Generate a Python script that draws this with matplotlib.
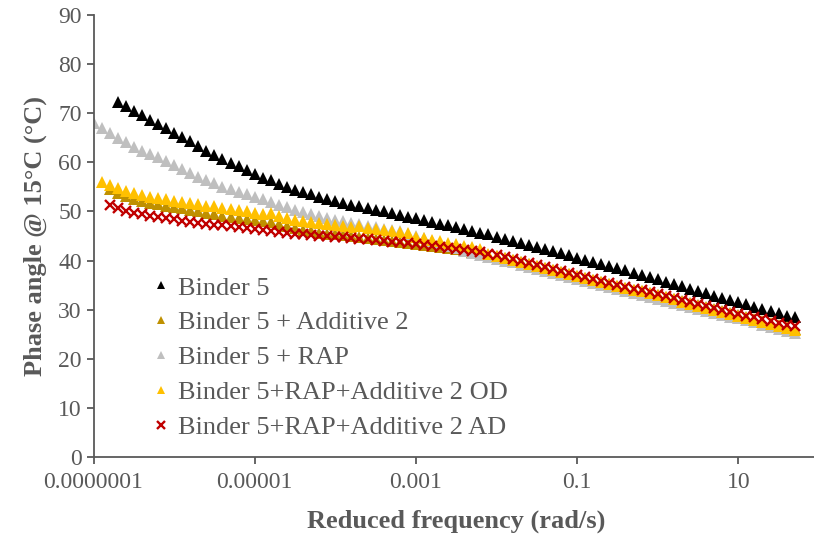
import numpy as np
import matplotlib
matplotlib.use('Agg')
import matplotlib.pyplot as plt

plt.rcParams['font.family'] = ['Liberation Serif', 'DejaVu Serif']

# log10 of reduced frequency (rad/s), shared grid; each series uses the tail of it
log_freq = [-7.0, -6.9, -6.8, -6.7, -6.6, -6.5, -6.4, -6.3, -6.2, -6.1,
            -6.0, -5.9, -5.8, -5.7, -5.6, -5.5, -5.4, -5.3, -5.2, -5.1,
            -5.0, -4.9, -4.8, -4.7, -4.6, -4.5, -4.4, -4.3, -4.2, -4.1,
            -4.0, -3.9, -3.8, -3.7, -3.6, -3.5, -3.4, -3.3, -3.2, -3.1,
            -3.0, -2.9, -2.8, -2.7, -2.6, -2.5, -2.4, -2.3, -2.2, -2.1,
            -2.0, -1.9, -1.8, -1.7, -1.6, -1.5, -1.4, -1.3, -1.2, -1.1,
            -1.0, -0.9, -0.8, -0.7, -0.6, -0.5, -0.4, -0.3, -0.2, -0.1,
            0.0, 0.1, 0.2, 0.3, 0.4, 0.5, 0.6, 0.7, 0.8, 0.9,
            1.0, 1.1, 1.2, 1.3, 1.4, 1.5, 1.6, 1.7]

binder5 = [72.3, 71.4, 70.5, 69.6, 68.7, 67.8, 66.9, 66.0, 65.1, 64.3,
           63.3, 62.4, 61.5, 60.7, 59.9, 59.2, 58.4, 57.6, 56.9, 56.3,
           55.6, 55.0, 54.4, 54.0, 53.5, 53.0, 52.6, 52.2, 51.8, 51.4,
           51.0, 50.7, 50.3, 50.0, 49.6, 49.3, 48.9, 48.6, 48.2, 47.9,
           47.5, 47.2, 46.8, 46.4, 46.0, 45.7, 45.3, 44.8, 44.4, 44.0,
           43.6, 43.2, 42.8, 42.4, 42.0, 41.5, 41.1, 40.6, 40.2, 39.8,
           39.3, 38.9, 38.4, 38.0, 37.5, 37.1, 36.6, 36.2, 35.7, 35.2,
           34.8, 34.3, 33.8, 33.3, 32.8, 32.4, 31.9, 31.5, 31.1, 30.6,
           30.2, 29.7, 29.3, 28.8, 28.4]

binder5_add2 = [54.6, 53.8, 53.2, 52.6, 52.2, 51.8, 51.5, 51.2, 50.9, 50.6,
                50.3, 50.0, 49.7, 49.4, 49.1, 48.9, 48.7, 48.5, 48.3, 48.1,
                47.9, 47.4, 47.0, 46.6, 46.3, 46.0, 45.7, 45.5, 45.3, 45.1,
                44.9, 44.7, 44.5, 44.3, 44.1, 43.9, 43.7, 43.5, 43.3, 43.1,
                42.9, 42.7, 42.5, 42.3, 42.1, 41.8, 41.5, 41.2, 40.9, 40.5,
                40.1, 39.7, 39.3, 38.9, 38.5, 38.1, 37.7, 37.3, 36.9, 36.5,
                36.1, 35.7, 35.3, 34.9, 34.5, 34.1, 33.7, 33.3, 32.9, 32.5,
                32.1, 31.7, 31.3, 30.9, 30.5, 30.1, 29.7, 29.3, 28.9, 28.5,
                28.1, 27.7, 27.3, 26.9, 26.5, 26.1]

binder5_rap = [68.0, 67.0, 66.0, 65.0, 64.1, 63.2, 62.4, 61.7, 61.0, 60.2,
               59.4, 58.6, 57.8, 57.1, 56.4, 55.7, 55.0, 54.5, 54.0, 53.5,
               53.0, 52.5, 51.9, 51.3, 50.8, 50.3, 49.8, 49.4, 49.0, 48.6,
               48.3, 48.0, 47.7, 47.4, 47.1, 46.8, 46.5, 46.3, 46.0, 45.5,
               45.0, 44.5, 44.0, 43.5, 43.0, 42.5, 42.0, 41.6, 41.2, 40.8,
               40.4, 40.0, 39.6, 39.0, 38.6, 38.2, 37.8, 37.4, 37.0, 36.6,
               36.2, 35.8, 35.4, 35.0, 34.6, 34.2, 33.8, 33.4, 33.0, 32.6,
               32.2, 31.8, 31.4, 31.0, 30.6, 30.2, 29.8, 29.4, 29.0, 28.6,
               28.2, 27.8, 27.4, 26.9, 26.5, 26.1, 25.7, 25.3]

binder5_rap_add2_od = [56.0, 55.3, 54.8, 54.1, 53.7, 53.3, 53.0, 52.7, 52.5, 52.2,
                       52.0, 51.7, 51.5, 51.2, 51.0, 50.7, 50.5, 50.2, 50.0, 49.7,
                       49.4, 49.6, 49.0, 48.6, 48.3, 48.1, 47.9, 47.7, 47.5, 47.3,
                       47.1, 46.9, 47.0, 46.7, 46.5, 46.3, 46.1, 45.9, 45.7, 44.8,
                       44.5, 44.2, 43.9, 43.6, 43.3, 43.0, 42.7, 42.4, 41.3, 40.9,
                       40.5, 40.1, 39.7, 39.3, 38.9, 38.5, 38.1, 37.7, 37.3, 36.9,
                       36.5, 36.1, 35.7, 35.3, 34.9, 34.5, 34.1, 33.7, 33.3, 32.9,
                       32.5, 32.1, 31.6, 31.2, 30.8, 30.4, 29.9, 29.5, 29.1, 28.7,
                       28.3, 27.9, 27.5, 27.1, 26.7, 26.3, 25.9]

binder5_rap_add2_ad = [51.3, 50.6, 50.1, 49.7, 49.4, 49.1, 48.9, 48.6, 48.4, 48.1,
                       47.9, 47.7, 47.5, 47.3, 47.2, 47.0, 46.9, 46.7, 46.5, 46.3,
                       46.0, 45.8, 45.6, 45.4, 45.3, 45.2, 45.0, 44.9, 44.8, 44.7,
                       44.5, 44.4, 44.3, 44.1, 44.0, 43.8, 43.7, 43.5, 43.3, 43.1,
                       42.9, 42.7, 42.5, 42.3, 42.1, 41.9, 41.7, 41.4, 41.1, 40.7,
                       40.3, 39.9, 39.5, 39.1, 38.7, 38.3, 37.9, 37.5, 37.1, 36.7,
                       36.3, 35.9, 35.5, 35.1, 34.7, 34.3, 33.9, 33.5, 33.2, 32.8,
                       32.4, 32.0, 31.6, 31.2, 30.8, 30.4, 30.0, 29.6, 29.2, 28.8,
                       28.4, 28.0, 27.6, 27.3, 26.9, 26.6]

series = [
    ('Binder 5', binder5, '#000000', '^'),
    ('Binder 5 + Additive 2', binder5_add2, '#BF9000', '^'),
    ('Binder 5 + RAP', binder5_rap, '#BFBFBF', '^'),
    ('Binder 5+RAP+Additive 2 OD', binder5_rap_add2_od, '#FFC000', '^'),
    ('Binder 5+RAP+Additive 2 AD', binder5_rap_add2_ad, '#C00000', 'x'),
]

txt = '#595959'

fig = plt.figure(figsize=(8.14, 5.38), dpi=100)
ax = fig.add_axes([0.1149, 0.1506, 0.8911, 0.8216])

freq = 10 ** np.array(log_freq)
for name, y, col, mk in series:
    x = freq[-len(y):]
    if mk == 'x':
        ax.plot(x, y, linestyle='none', marker='x', color=col, markersize=7.5,
                markeredgewidth=1.7, label=name)
    else:
        ax.plot(x, y, linestyle='none', marker='^', color=col, markersize=8,
                markeredgewidth=0, label=name)

ax.set_xscale('log')
ax.set_xlim(1e-7, 1e2)
ax.set_ylim(0, 90)
ax.set_yticks(range(0, 91, 10))
ax.set_xticks([1e-7, 1e-5, 1e-3, 1e-1, 1e1])
ax.set_xticklabels(['0.0000001', '0.00001', '0.001', '0.1', '10'])
ax.xaxis.set_minor_locator(matplotlib.ticker.NullLocator())

for s in ['top', 'right']:
    ax.spines[s].set_visible(False)
for s in ['left', 'bottom']:
    ax.spines[s].set_color(txt)
    ax.spines[s].set_linewidth(1.3)
ax.tick_params(colors=txt, labelsize=17, length=5, width=1.3, direction='out')
ax.tick_params(axis='x', pad=6)

ax.set_xlabel('Reduced frequency (rad/s)', fontsize=19, fontweight='bold', color=txt, labelpad=12)
ax.set_ylabel('Phase angle @ 15°C (°C)', fontsize=19, fontweight='bold', color=txt, labelpad=8)

leg = ax.legend(loc='upper left', bbox_to_anchor=(140 / 814, 1 - 263 / 538),
                bbox_transform=fig.transFigure, frameon=False, fontsize=19,
                handlelength=0.6, handletextpad=0.35, labelspacing=0.43,
                borderpad=0, markerscale=0.75)
for t in leg.get_texts():
    t.set_color(txt)

fig.savefig('out.png', dpi=100)
